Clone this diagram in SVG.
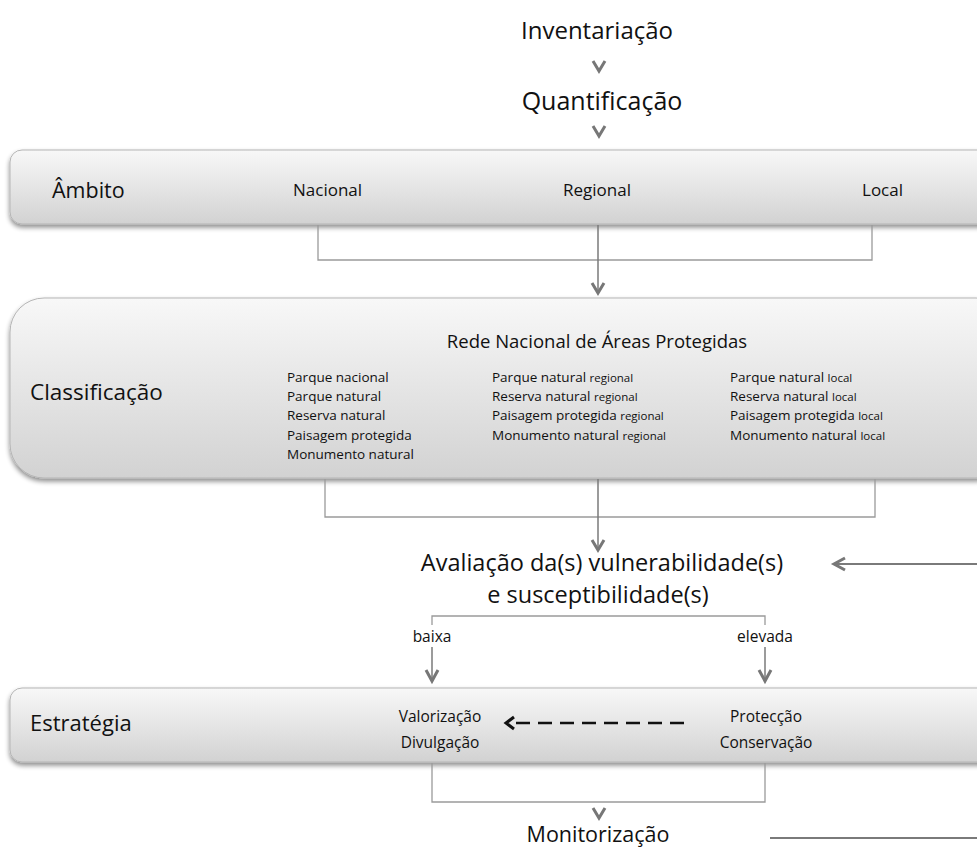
<svg xmlns="http://www.w3.org/2000/svg" width="977" height="849" viewBox="0 0 977 849">
<style>
text{font-family:"Open Sans","Liberation Sans",sans-serif;fill:#111}
.mid{font-size:17px}
.sm{font-size:13.5px}
.xs{font-size:11.5px}
.box{fill:url(#g);stroke:#b5b5b5;stroke-width:1;filter:url(#sh)}
.br{fill:none;stroke:#9a9a9a;stroke-width:1.3}
.ar{fill:none;stroke:#7a7a7a;stroke-width:1.5}
.ch{fill:none;stroke:#777;stroke-width:3}
</style>
<defs>
<linearGradient id="g" x1="0" y1="0" x2="0" y2="1">
<stop offset="0" stop-color="#f8f8f8"/>
<stop offset="1" stop-color="#d2d2d2"/>
</linearGradient>
<filter id="sh" x="-5%" y="-10%" width="110%" height="130%">
<feGaussianBlur in="SourceAlpha" stdDeviation="2.5"/>
<feOffset dx="0" dy="3" result="b"/>
<feComponentTransfer><feFuncA type="linear" slope="0.45"/></feComponentTransfer>
<feMerge><feMergeNode/><feMergeNode in="SourceGraphic"/></feMerge>
</filter>
</defs>
<rect width="977" height="849" fill="#fff"/>

<g id="inventariacao"><text style="font-size:24px" x="597" y="39" text-anchor="middle">Inventariação</text></g>
<g id="quantificacao"><text style="font-size:25px" x="602" y="110" text-anchor="middle">Quantificação</text></g>

<g id="ambito">
<rect class="box" x="10" y="150" width="990" height="74" rx="12"/>
<text style="font-size:21.5px" x="52" y="198">Âmbito</text>
<text class="mid" x="293" y="196">Nacional</text>
<text class="mid" x="597" y="196" text-anchor="middle">Regional</text>
<text class="mid" x="903" y="196" text-anchor="end">Local</text>
</g>

<g id="classificacao">
<rect class="box" x="10" y="298" width="1000" height="180" rx="34"/>
<text style="font-size:22.5px" x="30" y="400">Classificação</text>
<text style="font-size:18.5px" x="597" y="348" text-anchor="middle">Rede Nacional de Áreas Protegidas</text>
<g class="sm">
<text x="287" y="382">Parque nacional</text>
<text x="287" y="401">Parque natural</text>
<text x="287" y="420">Reserva natural</text>
<text x="287" y="440">Paisagem protegida</text>
<text x="287" y="459">Monumento natural</text>
<text x="492" y="382">Parque natural <tspan class="xs">regional</tspan></text>
<text x="492" y="401">Reserva natural <tspan class="xs">regional</tspan></text>
<text x="492" y="420">Paisagem protegida <tspan class="xs">regional</tspan></text>
<text x="492" y="440">Monumento natural <tspan class="xs">regional</tspan></text>
<text x="730" y="382">Parque natural <tspan class="xs">local</tspan></text>
<text x="730" y="401">Reserva natural <tspan class="xs">local</tspan></text>
<text x="730" y="420">Paisagem protegida <tspan class="xs">local</tspan></text>
<text x="730" y="440">Monumento natural <tspan class="xs">local</tspan></text>
</g>
</g>

<g id="avaliacao">
<text style="font-size:23.5px" x="602" y="571" text-anchor="middle">Avaliação da(s) vulnerabilidade(s)</text>
<text style="font-size:23.5px" x="598" y="603" text-anchor="middle">e susceptibilidade(s)</text>
</g>

<g id="estrategia">
<rect class="box" x="10" y="688" width="990" height="74" rx="12"/>
<text style="font-size:22px" x="30" y="731">Estratégia</text>
<text style="font-size:15.5px" x="440" y="722" text-anchor="middle">Valorização</text>
<text style="font-size:15.5px" x="440" y="748" text-anchor="middle">Divulgação</text>
<text style="font-size:15.5px" x="766" y="722" text-anchor="middle">Protecção</text>
<text style="font-size:15.5px" x="766" y="748" text-anchor="middle">Conservação</text>
</g>

<g id="monitorizacao"><text style="font-size:21.5px" x="598" y="842" text-anchor="middle">Monitorização</text></g>

<g id="connectors">
<path class="ch" d="M593,61 L599,71 L605,61"/>
<path class="ch" d="M593,126 L599,136 L605,126"/>
<path class="br" d="M318,225 V260 H872 V225"/>
<path class="ar" d="M598,225 V292"/>
<path class="ch" d="M592,283 L598,293 L604,283"/>
<path class="br" d="M325,479 V517 H875 V479"/>
<path class="ar" d="M598,479 V550"/>
<path class="ch" d="M592,540 L598,550 L604,540"/>
<path class="ar" d="M977,564 H834" style="stroke-width:2"/>
<path class="ch" d="M845,558 L834,564 L845,570"/>
<path class="br" d="M432,625 V616 H765 V625"/>
<path class="ar" d="M432,647 V681"/>
<path class="ch" d="M426,670 L432,681 L438,670"/>
<path class="ar" d="M765,647 V681"/>
<path class="ch" d="M759,670 L765,681 L771,670"/>
<text style="font-size:15.5px" x="432" y="642" text-anchor="middle">baixa</text>
<text style="font-size:15.5px" x="765" y="642" text-anchor="middle">elevada</text>
<path d="M684,723 H510" fill="none" stroke="#111" stroke-width="2.5" stroke-dasharray="14,8"/>
<path d="M514,717 L506,723 L514,729" fill="none" stroke="#111" stroke-width="3"/>
<path class="br" d="M432,763 V802 H765 V763"/>
<path class="ch" d="M593,808 L599,818 L605,808"/>
<path class="ar" d="M770,838 H977" style="stroke-width:2"/>
</g>
</svg>
